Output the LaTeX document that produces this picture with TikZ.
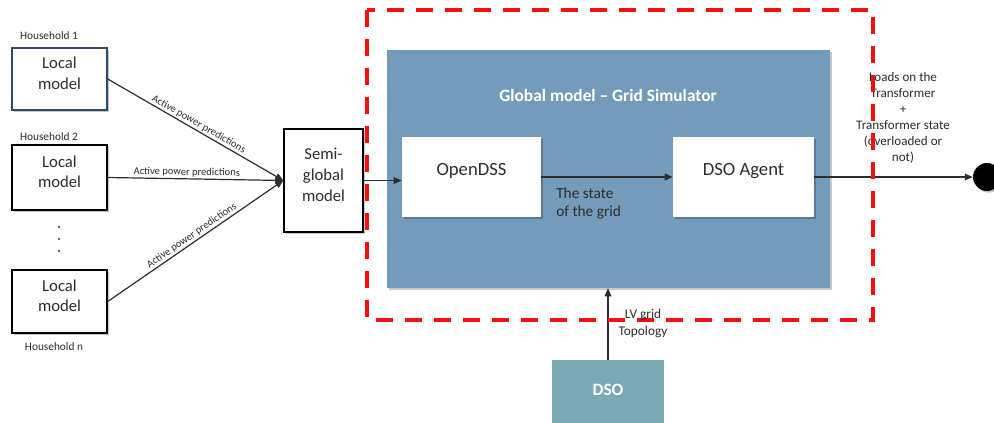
\documentclass[tikz,border=0pt]{standalone}
\usepackage{fontspec}
\setmainfont{Carlito}
\usetikzlibrary{arrows.meta,fit,shadows}

\definecolor{gridblue}{RGB}{116,156,186}
\definecolor{dsoteal}{RGB}{122,168,180}
\definecolor{txt}{RGB}{45,45,45}
\definecolor{edgeblue}{RGB}{45,75,105}
\definecolor{dashred}{RGB}{245,15,15}

\begin{document}
\begin{tikzpicture}[x=0.75pt,y=-0.75pt,
  shade/.style={drop shadow={shadow xshift=1.3pt, shadow yshift=-1.3pt, fill=black, opacity=0.22}},
  modelbox/.style={draw=black, line width=1.1pt, fill=white, inner sep=0pt, align=center,
    text=txt, font=\fontsize{12.5}{15.5}\selectfont, shade},
  innerbox/.style={fill=white, inner sep=0pt, align=center, text=txt,
    font=\fontsize{14}{16}\selectfont, shade},
  tag/.style={text=txt, font=\fontsize{8.5}{10}\selectfont, inner sep=1pt},
  edgetag/.style={text=txt, font=\fontsize{7.9}{9}\selectfont, inner sep=1pt},
  note/.style={text=txt, align=center, font=\fontsize{9.8}{12}\selectfont, inner sep=0pt},
  conn/.style={draw=txt, line width=0.9pt},
  arr/.style={conn, -{Triangle[length=6pt,width=5pt]}},
  boldwhite/.style={text=white, font=\bfseries\fontsize{13}{15}\selectfont}
]
\useasboundingbox (0,0) rectangle (994,423);
\clip (0,0) rectangle (994,423);
\fill[white] (0,0) rectangle (994,423);

% grid simulator block with its two components
\node[fit={(387,50)(830,288)}, fill=gridblue, inner sep=0pt, shade] (gm) {};
\node[boldwhite] (gmtitle) at (608,95) {Global model -- Grid Simulator};
\node[innerbox, fit={(402,137)(541,217)}] (ods) {OpenDSS};
\node[innerbox, fit={(673,137)(814,217)}] (agent) {DSO Agent};

% household models
\node[modelbox, draw=edgeblue, fit={(12,48)(107,110)}] (l1) {Local\\model};
\node[modelbox, fit={(12,145)(107,210)}] (l2) {Local\\model};
\node[modelbox, fit={(12,270)(107,333)}] (l3) {Local\\model};
\node[tag] (h1) at (49,36) {Household 1};
\node[tag] (h2) at (49,137) {Household 2};
\node[tag] (hn) at (54,347) {Household n};
\fill[txt] (59,227) circle (0.9pt) (59,239) circle (0.9pt) (59,251) circle (0.9pt);

% aggregation of the local predictions
\node[modelbox, fit={(284,129)(363,232)}] (sg) {Semi-\\global\\model};

\draw[arr] (l1.east) -- node[edgetag, midway, above, sloped] {Active power predictions} (sg.west);
\draw[arr] (l2.east) -- node[edgetag, pos=0.45, above, sloped] {Active power predictions} (sg.west);
\draw[arr] (l3.east) -- node[edgetag, midway, above, sloped] {Active power predictions} (sg.west);

\draw[arr] (sg.east) -- (sg.east -| ods.west);
\draw[arr] (ods.east) -- (agent.west);
\node[note, anchor=north west, align=left, font=\fontsize{11.5}{13}\selectfont] (state) at (556,188) {The state\\of the grid};

% output of the simulator
\node[circle, fill=black, minimum size=21pt, inner sep=0pt, shade] (out) at (987,177) {};
\draw[arr] (agent.east) -- (out.west);
\node[note] (loads) at (903,118) {Loads on the\\Transformer\\+\\Transformer state\\(overloaded or\\not)};

% DSO input
\node[fit={(552,360)(664,423)}, fill=dsoteal, inner sep=0pt] (dso) {};
\node[boldwhite] (dsolabel) at (608,390) {DSO};
\draw[arr] (dso.north) -- (dso.north |- gm.south);

% boundary of the global model
\draw[dashred, line width=3pt, dash pattern=on 12.75pt off 9pt] (367,10) rectangle (873,320);

\node[note, font=\fontsize{10}{12.75}\selectfont] (lv) at (643,324) {LV grid\\Topology};
\end{tikzpicture}
\end{document}
